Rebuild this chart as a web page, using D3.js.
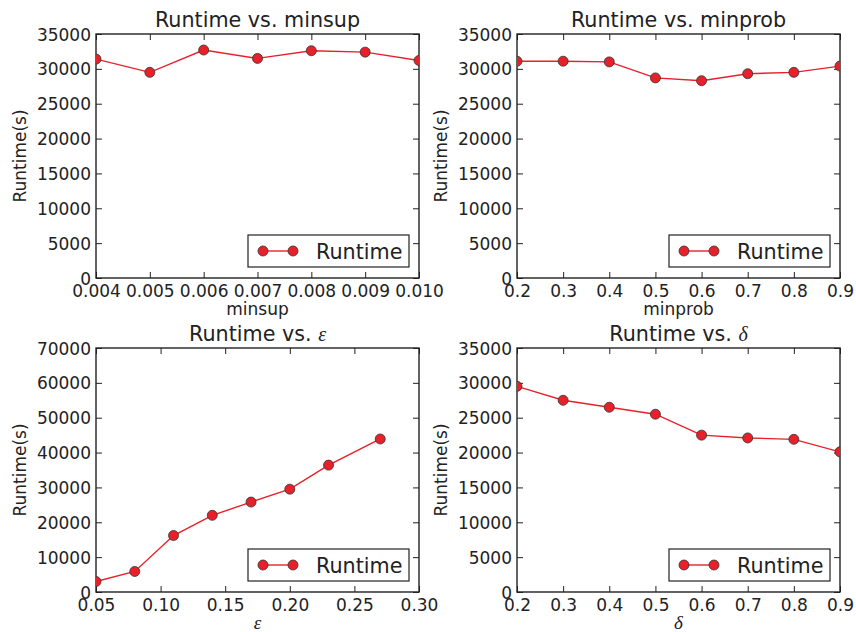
<!DOCTYPE html>
<html>
<head>
<meta charset="utf-8">
<script src="https://cdn.jsdelivr.net/npm/d3@7"></script>
<style>
  body { margin: 0; background: #fff; }
  svg { display: block; }
  text { font-family: "DejaVu Sans", sans-serif; fill: #222; }
  .math { font-family: "Liberation Serif", "DejaVu Serif", serif; font-style: italic; }
</style>
</head>
<body>
<svg width="856" height="632"></svg>
<script>
// data
const minsupX = [0.004, 0.005, 0.006, 0.007, 0.008, 0.009, 0.010];
const minsupY = [31400, 29500, 32700, 31500, 32600, 32400, 31200];

const minprobX = [0.2, 0.3, 0.4, 0.5, 0.6, 0.7, 0.8, 0.9];
const minprobY = [31100, 31100, 31000, 28700, 28300, 29300, 29500, 30400];

const epsX = [0.05, 0.08, 0.11, 0.14, 0.17, 0.20, 0.23, 0.27];
const epsY = [3000, 5900, 16200, 22000, 25800, 29500, 36400, 43900];

const deltaX = [0.2, 0.3, 0.4, 0.5, 0.6, 0.7, 0.8, 0.9];
const deltaY = [29500, 27500, 26500, 25500, 22500, 22100, 21900, 20100];

const minsupTicks = [0.004, 0.005, 0.006, 0.007, 0.008, 0.009, 0.010];
const probTicks = [0.2, 0.3, 0.4, 0.5, 0.6, 0.7, 0.8, 0.9];
const epsTicks = [0.05, 0.10, 0.15, 0.20, 0.25, 0.30];
const y35Ticks = [0, 5000, 10000, 15000, 20000, 25000, 30000, 35000];
const y70Ticks = [0, 10000, 20000, 30000, 40000, 50000, 60000, 70000];

const svg = d3.select("svg");
const red = "#e8202a";

const panels = [
  {x: minsupX, y: minsupY, xd: [0.004, 0.010], yd: [0, 35000], xt: minsupTicks, yt: y35Ticks,
   fmt: d3.format(".3f"), title: "minsup", xlab: "minsup", math: false, left: 96, top: 34},
  {x: minprobX, y: minprobY, xd: [0.2, 0.9], yd: [0, 35000], xt: probTicks, yt: y35Ticks,
   fmt: d3.format(".1f"), title: "minprob", xlab: "minprob", math: false, left: 517, top: 34},
  {x: epsX, y: epsY, xd: [0.05, 0.30], yd: [0, 70000], xt: epsTicks, yt: y70Ticks,
   fmt: d3.format(".2f"), title: "\u03b5", xlab: "\u03b5", math: true, left: 96, top: 348},
  {x: deltaX, y: deltaY, xd: [0.2, 0.9], yd: [0, 35000], xt: probTicks, yt: y35Ticks,
   fmt: d3.format(".1f"), title: "\u03b4", xlab: "\u03b4", math: true, left: 517, top: 348}
];

const W = 323, H = 244;

panels.forEach((p, i) => {
  const g = svg.append("g").attr("transform", `translate(${p.left},${p.top})`);
  const x = d3.scaleLinear().domain(p.xd).range([0, W]);
  const y = d3.scaleLinear().domain(p.yd).range([H, 0]);

  g.append("clipPath").attr("id", "clip" + i)
    .append("rect").attr("width", W).attr("height", H);

  // ticks inward on all four sides
  const tickLen = 6;
  const xAxisG = g.append("g").attr("transform", `translate(0,${H})`)
    .call(d3.axisBottom(x).tickValues(p.xt).tickSizeInner(-tickLen).tickSizeOuter(0).tickFormat(p.fmt));
  g.append("g")
    .call(d3.axisTop(x).tickValues(p.xt).tickSizeInner(-tickLen).tickSizeOuter(0).tickFormat(""));
  const yAxisG = g.append("g")
    .call(d3.axisLeft(y).tickValues(p.yt).tickSizeInner(-tickLen).tickSizeOuter(0).tickFormat(d3.format("d")));
  g.append("g").attr("transform", `translate(${W},0)`)
    .call(d3.axisRight(y).tickValues(p.yt).tickSizeInner(-tickLen).tickSizeOuter(0).tickFormat(""));

  g.selectAll(".domain").remove();
  g.selectAll(".tick line").attr("stroke", "#222").attr("stroke-width", 1);
  g.selectAll(".tick text").attr("font-size", 17).attr("fill", "#222")
    .attr("font-family", "DejaVu Sans");
  xAxisG.selectAll(".tick text").attr("y", 0).attr("dy", "19px");
  yAxisG.selectAll(".tick text").attr("x", -5).attr("dy", "0.36em");

  g.append("rect").attr("width", W).attr("height", H)
    .attr("fill", "none").attr("stroke", "#222").attr("stroke-width", 1.4);

  const pts = p.x.map((v, k) => [v, p.y[k]]);
  const plot = g.append("g").attr("clip-path", `url(#clip${i})`);
  plot.append("path").datum(pts)
    .attr("fill", "none").attr("stroke", red).attr("stroke-width", 1.4)
    .attr("d", d3.line().x(d => x(d[0])).y(d => y(d[1])));
  plot.selectAll("circle").data(pts).enter().append("circle")
    .attr("cx", d => x(d[0])).attr("cy", d => y(d[1])).attr("r", 5)
    .attr("fill", red).attr("stroke", "#333").attr("stroke-width", 0.8);

  // title
  const t = g.append("text").attr("x", W / 2).attr("y", -7.5)
    .attr("text-anchor", "middle").attr("font-size", 20.7);
  t.append("tspan").text("Runtime vs. " + (p.math ? "" : p.title));
  if (p.math) t.append("tspan").attr("class", "math").attr("font-size", 20).text(p.title);

  // x label
  g.append("text").attr("x", W / 2).attr("y", H + 37)
    .attr("text-anchor", "middle").attr("font-size", p.math ? 19 : 17)
    .attr("class", p.math ? "math" : null).text(p.xlab);

  // y label
  g.append("text").attr("transform", `translate(-70,${H / 2}) rotate(-90)`)
    .attr("text-anchor", "middle").attr("font-size", 17).text("Runtime(s)");

  // legend
  const lg = g.append("g").attr("transform", `translate(${W - 171},${H - 43})`);
  lg.append("rect").attr("width", 161).attr("height", 32)
    .attr("fill", "#fff").attr("stroke", "#222").attr("stroke-width", 1.2);
  lg.append("line").attr("x1", 15).attr("x2", 45).attr("y1", 16).attr("y2", 16)
    .attr("stroke", red).attr("stroke-width", 1.4);
  [15, 45].forEach(cx => lg.append("circle").attr("cx", cx).attr("cy", 16).attr("r", 5)
    .attr("fill", red).attr("stroke", "#333").attr("stroke-width", 0.8));
  lg.append("text").attr("x", 68).attr("y", 23.5).attr("font-size", 20.7).text("Runtime");
});
</script>
</body>
</html>
